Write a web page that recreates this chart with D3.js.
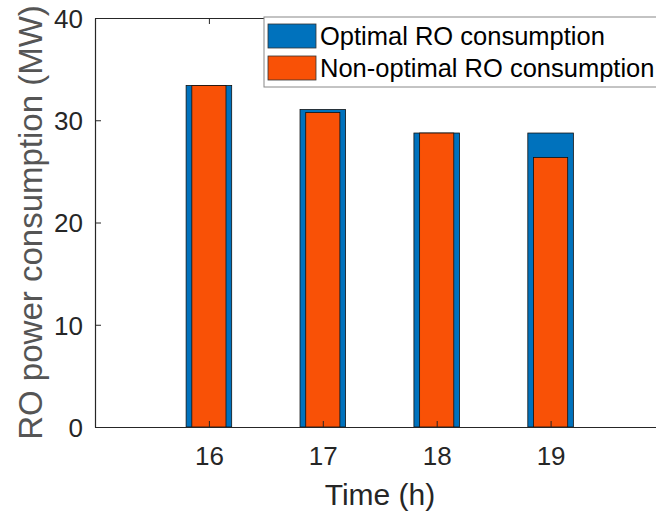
<!DOCTYPE html>
<html>
<head>
<meta charset="utf-8">
<script src="https://cdn.jsdelivr.net/npm/d3@7"></script>
<style>
  body { margin: 0; background: #fff; }
  svg { font-family: "Liberation Sans", Arial, sans-serif; }
</style>
</head>
<body>
<svg id="chart" width="656" height="513"></svg>
<script>
const hours = [16, 17, 18, 19];
const optimal = [33.4, 31.05, 28.75, 28.75];
const nonOptimal = [33.4, 30.75, 28.75, 26.35];
const yTicks = [0, 10, 20, 30, 40];
const seriesNames = ['Optimal RO consumption', 'Non-optimal RO consumption'];

const svg = d3.select('#chart');
const margin = { top: 18, left: 95, bottom: 86 };
const height = 513 - margin.top - margin.bottom;

const x = d3.scaleLinear().domain([15, 20]).range([margin.left, margin.left + 5 * 113.9]);
const y = d3.scaleLinear().domain([0, 40]).range([margin.top + height, margin.top]);
const unit = x(1) - x(0);

const axisColor = '#262626';

// bars
const blue = '#0072BD', orange = '#F95106';
svg.selectAll('.bar-opt')
  .data(hours)
  .enter().append('rect')
  .attr('x', (d) => x(d) - 0.2 * unit)
  .attr('width', 0.4 * unit)
  .attr('y', (d, i) => y(optimal[i]))
  .attr('height', (d, i) => y(0) - y(optimal[i]))
  .attr('fill', blue)
  .attr('stroke', '#111')
  .attr('stroke-width', 0.8);

svg.selectAll('.bar-non')
  .data(hours)
  .enter().append('rect')
  .attr('x', (d) => x(d) - 0.15 * unit)
  .attr('width', 0.3 * unit)
  .attr('y', (d, i) => y(nonOptimal[i]))
  .attr('height', (d, i) => y(0) - y(nonOptimal[i]))
  .attr('fill', orange)
  .attr('stroke', '#111')
  .attr('stroke-width', 0.8);

// axes
const xAxis = svg.append('g')
  .attr('transform', `translate(0,${y(0)})`)
  .call(d3.axisBottom(x).tickValues(hours).tickFormat(d3.format('d')).tickSizeInner(-6).tickSizeOuter(0).tickPadding(20));
const xTop = svg.append('g')
  .attr('transform', `translate(0,${y(40)})`)
  .call(d3.axisTop(x).tickValues(hours).tickSizeInner(-6).tickSizeOuter(0).tickFormat(''));
const yAxis = svg.append('g')
  .attr('transform', `translate(${x(15)},0)`)
  .call(d3.axisLeft(y).tickValues(yTicks).tickFormat(d3.format('d')).tickSizeInner(-6).tickSizeOuter(0).tickPadding(12));

[xAxis, xTop, yAxis].forEach((g) => {
  g.select('.domain').attr('stroke', axisColor).attr('stroke-width', 1.2);
  g.selectAll('.tick line').attr('stroke', axisColor);
  g.selectAll('.tick text')
    .attr('fill', axisColor)
    .style('font-size', '26px')
    .style('font-family', '"Liberation Sans", Arial, sans-serif');
});
xAxis.selectAll('.tick text').attr('dy', '0.71em');
yAxis.selectAll('.tick text').attr('dy', '0.36em');

// axis labels
svg.append('text')
  .attr('x', 380)
  .attr('y', 505)
  .attr('text-anchor', 'middle')
  .attr('fill', axisColor)
  .style('font-size', '30px')
  .text('Time (h)');

svg.append('text')
  .attr('transform', `translate(42,${y(20)}) rotate(-90)`)
  .attr('text-anchor', 'middle')
  .attr('fill', '#555')
  .style('font-size', '33px')
  .text('RO power consumption (MW)');

// legend
const legend = svg.append('g').attr('transform', 'translate(264,17)');
legend.append('rect')
  .attr('width', 420)
  .attr('height', 70)
  .attr('fill', '#fff')
  .attr('stroke', '#888')
  .attr('stroke-width', 1);
[blue, orange].forEach((c, i) => {
  legend.append('rect')
    .attr('x', 4)
    .attr('y', 7 + i * 32)
    .attr('width', 48)
    .attr('height', 24)
    .attr('fill', c)
    .attr('stroke', '#333')
    .attr('stroke-width', 0.8);
  legend.append('text')
    .attr('x', 56)
    .attr('y', 19 + i * 32)
    .attr('dy', '0.36em')
    .attr('fill', '#000')
    .style('font-size', '25.5px')
    .text(seriesNames[i]);
});
</script>
</body>
</html>
